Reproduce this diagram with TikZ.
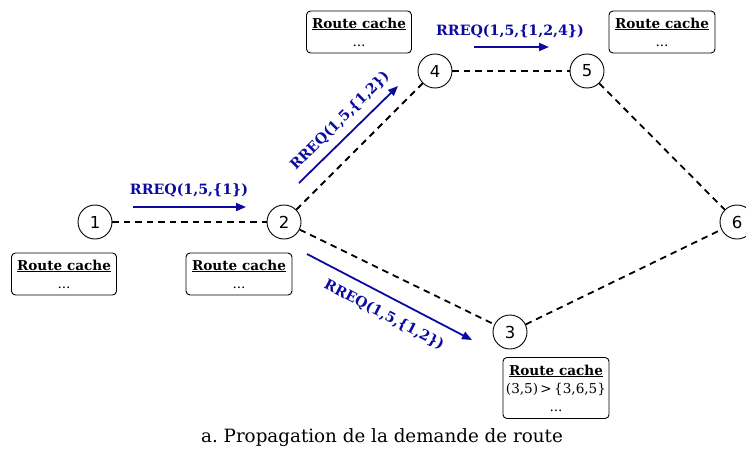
\documentclass[tikz,border=0pt]{standalone}
\usepackage{fontspec}
\setmainfont{DejaVu Serif}
\newfontfamily\numfont{DejaVu Sans}
\usetikzlibrary{arrows.meta}
\definecolor{rblue}{RGB}{10,10,160}
\tikzset{
  nd/.style={circle,draw,line width=0.9pt,minimum size=34pt,inner sep=0pt,font=\numfont\fontsize{16.5}{16.5}\selectfont},
  cachebox/.style={draw,rounded corners=4pt,line width=0.9pt,align=center,inner sep=3pt,font=\fontsize{13.6}{18}\selectfont},
  link/.style={dashed,dash pattern=on 6.5pt off 5pt,line width=1.8pt},
  msg/.style={draw=rblue,line width=1.8pt,-{Triangle[length=10pt,width=8pt]}},
  msgl/.style={text=rblue,font=\bfseries\fontsize{14.2}{14.2}\selectfont,inner sep=1pt}
}
\newcommand{\rcache}[1]{\underline{\textbf{Route cache}}\\#1}
\begin{document}
\begin{tikzpicture}[x=1pt,y=-1pt]
\useasboundingbox (0,0) rectangle (746,455);
\node[nd] (n1) at (95,222) {1};
\node[nd] (n2) at (284,222) {2};
\node[nd] (n4) at (435,71) {4};
\node[nd] (n5) at (587,71) {5};
\node[nd] (n6) at (737,222) {6};
\node[nd] (n3) at (510,332) {3};
\draw[link] (n1) -- (n2);
\draw[link] (n2) -- (n4);
\draw[link] (n4) -- (n5);
\draw[link] (n5) -- (n6);
\draw[link] (n2) -- (n3);
\draw[link] (n3) -- (n6);
\node[cachebox,minimum width=105pt,minimum height=42pt] (c1) at (64,274) {\rcache{...}};
\node[cachebox,minimum width=106pt,minimum height=42pt] (c2) at (239,274) {\rcache{...}};
\node[cachebox,minimum width=105pt,minimum height=42pt] (c4) at (359,32) {\rcache{...}};
\node[cachebox,minimum width=106pt,minimum height=42pt] (c5) at (662,32) {\rcache{...}};
\node[cachebox,minimum width=106pt,minimum height=61pt] (c3) at (556,388) {\rcache{(3,5)\,>\,\{3,6,5\}\\...}};
\coordinate (a1s) at (133,207); \coordinate (a1e) at (246,207);
\draw[msg] (a1s) -- (a1e);
\node[msgl] (l1) at (189,190) {RREQ(1,5,\{1\})};
\coordinate (a2s) at (299,183); \coordinate (a2e) at (398,86);
\draw[msg] (a2s) -- (a2e);
\node[msgl,rotate=45] (l2) at (340,121) {RREQ(1,5,\{1,2\})};
\coordinate (a3s) at (307,254); \coordinate (a3e) at (472,340);
\draw[msg] (a3s) -- (a3e);
\node[msgl,rotate=-27.5] (l3) at (384,315) {RREQ(1,5,\{1,2\})};
\coordinate (a4s) at (474,47); \coordinate (a4e) at (549,47);
\draw[msg] (a4s) -- (a4e);
\node[msgl] (l4) at (510,31) {RREQ(1,5,\{1,2,4\})};
\node[font=\fontsize{18.3}{18.3}\selectfont] (cap) at (382,438) {a.\ Propagation de la demande de route};
\end{tikzpicture}
\end{document}
